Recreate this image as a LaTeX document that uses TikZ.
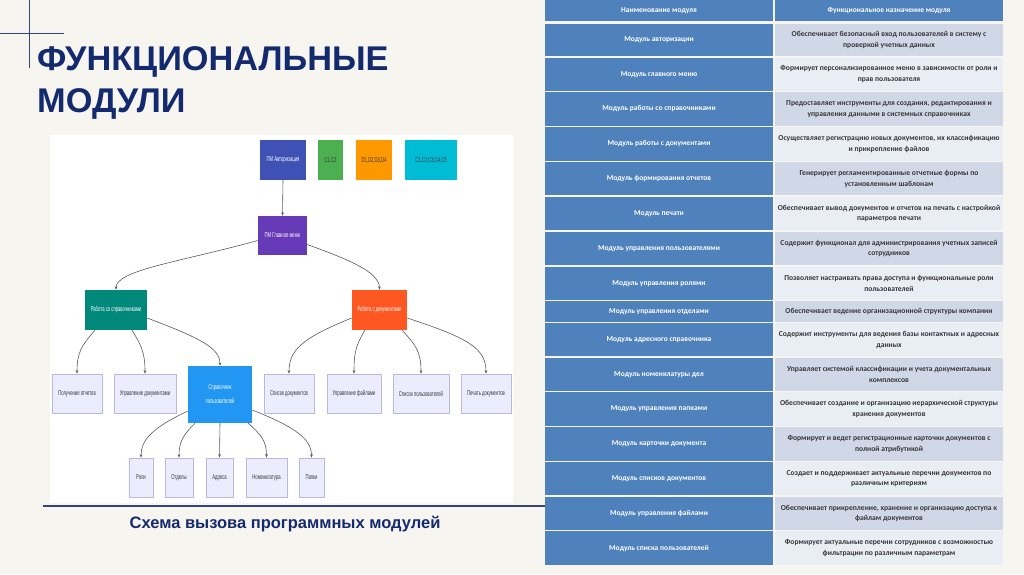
\documentclass[tikz,border=0pt]{standalone}
\usepackage{fontspec}
\setmainfont{Liberation Sans}
\newfontfamily\tabfont{Carlito}
\newfontfamily\condfont[FakeStretch=0.6]{Liberation Sans}
\usetikzlibrary{arrows.meta,calc}
\definecolor{bg}{HTML}{F7F5F0}
\definecolor{navy}{HTML}{142A6E}
\definecolor{navyline}{HTML}{34447C}
\definecolor{tblue}{HTML}{4F81BD}
\definecolor{tdark}{HTML}{D0D8E8}
\definecolor{tlight}{HTML}{E9EDF4}
\definecolor{ttext}{HTML}{363636}
\definecolor{cauth}{HTML}{3F51B5}
\definecolor{cgreen}{HTML}{4CAF50}
\definecolor{corange}{HTML}{FF9800}
\definecolor{ccyan}{HTML}{00BCD4}
\definecolor{cmenu}{HTML}{673AB7}
\definecolor{cteal}{HTML}{00897B}
\definecolor{cdeep}{HTML}{FF5722}
\definecolor{cblue}{HTML}{2196F3}
\definecolor{leaffill}{HTML}{ECECFF}
\definecolor{leafline}{HTML}{BDB6DE}
\definecolor{edgec}{HTML}{5A5A5A}
\newcommand\trow[6]{%
  \fill[tblue] (545,#2+0.6) rectangle (773,#3-0.6);
  \fill[#6] (774.8,#2+0.6) rectangle (1003,#3-0.6);
  \node[ltext] (l#1) at (659,{(#2+#3)/2}) {#4};
  \node[rtext] (r#1) at (889,{(#2+#3)/2}) {#5};
}
\begin{document}
\begin{tikzpicture}[x=1pt,y=-1pt,
  box/.style={inner sep=0pt, font=\condfont\fontsize{7}{8.5}\selectfont, align=center},
  cbox/.style={box, text=white},
  dbox/.style={box, text=ttext},
  leaf/.style={box, fill=leaffill, draw=leafline, line width=0.6pt, text=ttext},
  conn/.style={draw=edgec, line width=0.6pt, -{Stealth[length=3.5pt,width=2.6pt]}},
  ltext/.style={inner sep=0pt, text=white, font=\tabfont\bfseries\fontsize{7.5}{10}\selectfont, align=center},
  rtext/.style={inner sep=0pt, text=ttext, font=\tabfont\bfseries\fontsize{7.6}{10.5}\selectfont, align=center},
  titlef/.style={inner sep=0pt, text=navy, font=\bfseries\fontsize{34.3}{40}\selectfont, anchor=base west},
]
\useasboundingbox (0,0) rectangle (1024,574);
\fill[bg] (0,0) rectangle (1024,574);
% decorative lines
\draw[navyline, line width=1pt] (29,0) -- (29,68);
\draw[navyline, line width=1pt] (0,33) -- (64,33);
% title
\node[titlef] (t1) at (37,70) {ФУНКЦИОНАЛЬНЫЕ};
\node[titlef] (t2) at (37,112) {МОДУЛИ};
% diagram panel
\fill[white] (50,135) rectangle (513,503);
\draw[navyline, line width=1.2pt] (43,506) -- (545,506);
\node[inner sep=0pt, text=navy, font=\bfseries\fontsize{16.5}{19}\selectfont, anchor=base] (cap) at (285,528) {Схема вызова программных модулей};
% diagram nodes
\node[cbox, fill=cauth, minimum width=46, minimum height=40] (auth) at (283,160) {ПМ Авторизация};
\node[dbox, fill=cgreen, minimum width=25, minimum height=40] (c12) at (330.5,160) {С1,С2};
\node[dbox, fill=corange, minimum width=36, minimum height=40] (d14) at (374,160) {D1,D2,D3,D4};
\node[dbox, fill=ccyan, minimum width=52, minimum height=40] (c15) at (431,160) {C1,C2,C3,C4,C5};
\node[cbox, fill=cmenu, minimum width=49, minimum height=39] (menu) at (282.5,235.5) {ПМ Главное меню};
\node[cbox, fill=cteal, minimum width=62, minimum height=40] (rs) at (116,310) {Работа со справочниками};
\node[cbox, fill=cdeep, minimum width=55, minimum height=40] (rd) at (379.5,310) {Работа с документами};
\node[cbox, fill=cblue, minimum width=64, minimum height=57, font=\condfont\fontsize{7}{14}\selectfont] (sp) at (220,394.5) {Справочник\\пользователей};
\node[leaf, minimum width=50, minimum height=39] (po) at (77,393.5) {Получение отчетов};
\node[leaf, minimum width=62, minimum height=39] (ud) at (145,393.5) {Управление документами};
\node[leaf, minimum width=50, minimum height=39] (sd) at (289,393.5) {Список документов};
\node[leaf, minimum width=54, minimum height=39] (uf) at (354,393.5) {Управление файлами};
\node[leaf, minimum width=56, minimum height=39] (su) at (421,393.5) {Список пользователей};
\node[leaf, minimum width=50, minimum height=39] (pd) at (486,393.5) {Печать документов};
\node[leaf, minimum width=24, minimum height=39] (roli) at (141,477.5) {Роли};
\node[leaf, minimum width=28, minimum height=39] (otd) at (179,477.5) {Отделы};
\node[leaf, minimum width=27, minimum height=39] (adr) at (219.5,477.5) {Адреса};
\node[leaf, minimum width=41, minimum height=39] (nom) at (266.5,477.5) {Номенклатура};
\node[leaf, minimum width=25, minimum height=39] (pap) at (311.5,477.5) {Папки};
% connectors
\draw[conn] (auth.south) -- (menu.north);
\draw[conn] ([yshift=-5]menu.west) .. controls (180,262) and (116,270) .. (rs.north);
\draw[conn] ([yshift=-9]menu.east) .. controls (350,260) and (379,272) .. (rd.north);
\draw[conn] ([xshift=-21]rs.south) .. controls (82,345) and (77,352) .. (po.north);
\draw[conn] ([xshift=16]rs.south) .. controls (141,345) and (145,352) .. (ud.north);
\draw[conn] ([yshift=-8]rs.east) .. controls (200,338) and (220,348) .. (sp.north);
\draw[conn] ([yshift=-8]rd.west) .. controls (302,338) and (289,350) .. (sd.north);
\draw[conn] ([xshift=-14.5]rd.south) .. controls (356,345) and (354,352) .. (uf.north);
\draw[conn] ([xshift=22.5]rd.south) .. controls (416,345) and (421,352) .. (su.north);
\draw[conn] ([yshift=-8]rd.east) .. controls (468,338) and (486,348) .. (pd.north);
\draw[conn] ([yshift=-16.5]sp.west) .. controls (152,428) and (141,440) .. (roli.north);
\draw[conn] ([xshift=-25]sp.south) .. controls (183,435) and (179,442) .. (otd.north);
\draw[conn] (sp.south) -- (adr.north);
\draw[conn] ([xshift=28]sp.south) .. controls (262,435) and (266.5,442) .. (nom.north);
\draw[conn] ([yshift=-15.5]sp.east) .. controls (298,428) and (311.5,440) .. (pap.north);
% table
\fill[tblue] (545,0) rectangle (773,20.5);
\fill[tblue] (774.8,0) rectangle (1003,20.5);
\node[ltext] (h1) at (659,10.5) {Наименование модуля};
\node[ltext] (h2) at (889,10.5) {Функциональное назначение модуля};
\trow{1}{23}{57}{Модуль авторизации}{Обеспечивает безопасный вход пользователей в систему с\\проверкой учетных данных}{tdark}
\trow{2}{57}{91.5}{Модуль главного меню}{Формирует персонализированное меню в зависимости от роли и\\прав пользователя}{tlight}
\trow{3}{91.5}{126.5}{Модуль работы со справочниками}{Предоставляет инструменты для создания, редактирования и\\управления данными в системных справочниках}{tdark}
\trow{4}{126.5}{161.5}{Модуль работы с документами}{Осуществляет регистрацию новых документов, их классификацию\\и прикрепление файлов}{tlight}
\trow{5}{161.5}{196}{Модуль формирования отчетов}{Генерирует регламентированные отчетные формы по\\установленным шаблонам}{tdark}
\trow{6}{196}{231}{Модуль печати}{Обеспечивает вывод документов и отчетов на печать с настройкой\\параметров печати}{tlight}
\trow{7}{231}{266}{Модуль управления пользователями}{Содержит функционал для администрирования учетных записей\\сотрудников}{tdark}
\trow{8}{266}{300.5}{Модуль управления ролями}{Позволяет настраивать права доступа и функциональные роли\\пользователей}{tlight}
\trow{9}{300.5}{322.5}{Модуль управления отделами}{Обеспечивает ведение организационной структуры компании}{tdark}
\trow{10}{322.5}{357}{Модуль адресного справочника}{Содержит инструменты для ведения базы контактных и адресных\\данных}{tlight}
\trow{11}{357}{391.5}{Модуль номенклатуры дел}{Управляет системой классификации и учета документальных\\комплексов}{tdark}
\trow{12}{391.5}{426.5}{Модуль управления папками}{Обеспечивает создание и организацию иерархической структуры\\хранения документов}{tlight}
\trow{13}{426.5}{461.5}{Модуль карточки документа}{Формирует и ведет регистрационные карточки документов с\\полной атрибутикой}{tdark}
\trow{14}{461.5}{496}{Модуль списков документов}{Создает и поддерживает актуальные перечни документов по\\различным критериям}{tlight}
\trow{15}{496}{530.5}{Модуль управления файлами}{Обеспечивает прикрепление, хранение и организацию доступа к\\файлам документов}{tdark}
\trow{16}{530.5}{566}{Модуль списка пользователей}{Формирует актуальные перечни сотрудников с возможностью\\фильтрации по различным параметрам}{tlight}
\end{tikzpicture}
\end{document}
